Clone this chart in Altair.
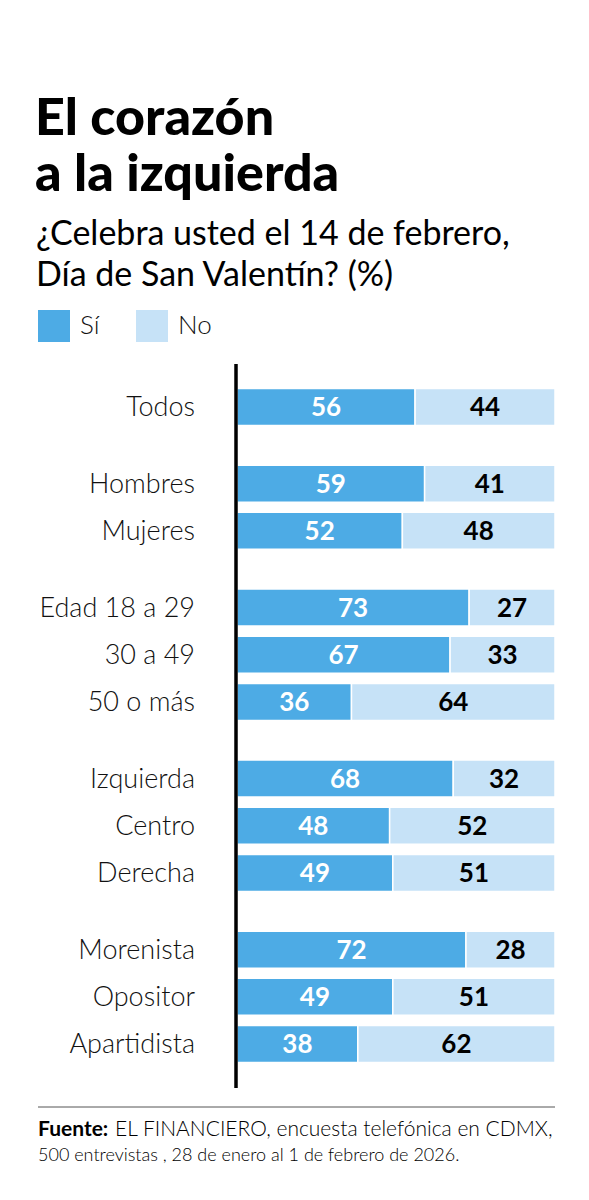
import altair as alt
import pandas as pd

categories = ["Todos", "Hombres", "Mujeres", "Edad 18 a 29", "30 a 49", "50 o más",
              "Izquierda", "Centro", "Derecha", "Morenista", "Opositor", "Apartidista"]
groups = [0, 1, 1, 2, 2, 2, 3, 3, 3, 4, 4, 4]
si_values = [56, 59, 52, 73, 67, 36, 68, 48, 49, 72, 49, 38]
no_values = [44, 41, 48, 27, 33, 64, 32, 52, 51, 28, 51, 62]
responses = ["Sí", "No"]
colors = ["#4DABE5", "#C6E2F7"]

title_lines = ["El corazón", "a la izquierda"]
subtitle_lines = ["¿Celebra usted el 14 de febrero,", "Día de San Valentín? (%)"]
source_bold = "Fuente:"
source_line1 = "EL FINANCIERO, encuesta telefónica en CDMX,"
source_line2 = "500 entrevistas , 28 de enero al 1 de febrero de 2026."

FONT = "Lato"

rows = []
labels = []
for i, (c, g, s, n) in enumerate(zip(categories, groups, si_values, no_values)):
    slot = i + g * 0.625
    rows.append(dict(cat=c, slot=slot, resp="Sí", start=0, end=s, val=s, mid=s / 2))
    rows.append(dict(cat=c, slot=slot, resp="No", start=s, end=s + n, val=n, mid=s + n / 2))
    labels.append(dict(cat=c, slot=slot))
df = pd.DataFrame(rows)
lab = pd.DataFrame(labels)

xs = alt.Scale(domain=[0, 100], range=[229, 547], nice=False, zero=False)
ys = alt.Scale(domain=[0, 13.5], range=[394, 1041], nice=False, zero=False)

base = alt.Chart(df)

bars = base.mark_bar(size=37, stroke="white", strokeWidth=1.5).encode(
    x=alt.X("start:Q", scale=xs, axis=None),
    x2="end:Q",
    y=alt.Y("slot:Q", scale=ys, axis=None),
    color=alt.Color(
        "resp:N",
        scale=alt.Scale(domain=responses, range=colors),
        legend=alt.Legend(
            orient="none", legendX=30, legendY=302, direction="horizontal",
            title=None, symbolType="square", symbolSize=1024, symbolStrokeWidth=0,
            symbolOpacity=1, labelFontSize=26, labelFont=FONT, labelFontWeight=300,
            labelColor="#111", labelOffset=10, columnPadding=36, padding=0,
        ),
    ),
)

nums = base.mark_text(font=FONT, fontSize=26, fontWeight="bold", baseline="middle", dy=1).encode(
    x=alt.X("mid:Q", scale=xs, axis=None),
    y=alt.Y("slot:Q", scale=ys, axis=None),
    text="val:Q",
    color=alt.condition(alt.datum.resp == "Sí", alt.value("white"), alt.value("black")),
)

cat_labels = alt.Chart(lab).mark_text(
    font=FONT, fontSize=27, fontWeight=300, align="right", baseline="middle", color="#111", dy=1
).encode(
    x=alt.value(187),
    y=alt.Y("slot:Q", scale=ys, axis=None),
    text="cat:N",
)

one = pd.DataFrame({"k": [0]})

axis_line = alt.Chart(one).mark_rule(color="black", strokeWidth=3.5).encode(
    x=alt.value(228), y=alt.value(356), y2=alt.value(1080)
)
foot_line = alt.Chart(one).mark_rule(color="#555555", strokeWidth=1).encode(
    x=alt.value(30), x2=alt.value(547), y=alt.value(1099)
)

title = alt.Chart(one).mark_text(
    font=FONT, fontSize=52, fontWeight=900, align="left", baseline="alphabetic",
    lineHeight=56, color="black"
).encode(x=alt.value(27), y=alt.value(127), text=alt.value(title_lines))

subtitle = alt.Chart(one).mark_text(
    font=FONT, fontSize=34, fontWeight=400, align="left", baseline="alphabetic",
    lineHeight=41, color="black"
).encode(x=alt.value(28), y=alt.value(237), text=alt.value(subtitle_lines))

src_b = alt.Chart(one).mark_text(
    font=FONT, fontSize=21, fontWeight="bold", align="left", baseline="alphabetic", color="black"
).encode(x=alt.value(30), y=alt.value(1128), text=alt.value(source_bold))

src_1 = alt.Chart(one).mark_text(
    font=FONT, fontSize=21, fontWeight=300, align="left", baseline="alphabetic", color="black"
).encode(x=alt.value(107), y=alt.value(1128), text=alt.value(source_line1))

src_2 = alt.Chart(one).mark_text(
    font=FONT, fontSize=18, fontWeight=300, align="left", baseline="alphabetic", color="black"
).encode(x=alt.value(30), y=alt.value(1153), text=alt.value(source_line2))

chart = alt.layer(
    bars, nums, cat_labels, axis_line, foot_line, title, subtitle, src_b, src_1, src_2
).properties(
    width=573, height=1184, autosize="none", padding=0, background="white"
).configure_view(stroke=None)

chart.save("out.html", embed_options={"renderer": "svg", "actions": False})
